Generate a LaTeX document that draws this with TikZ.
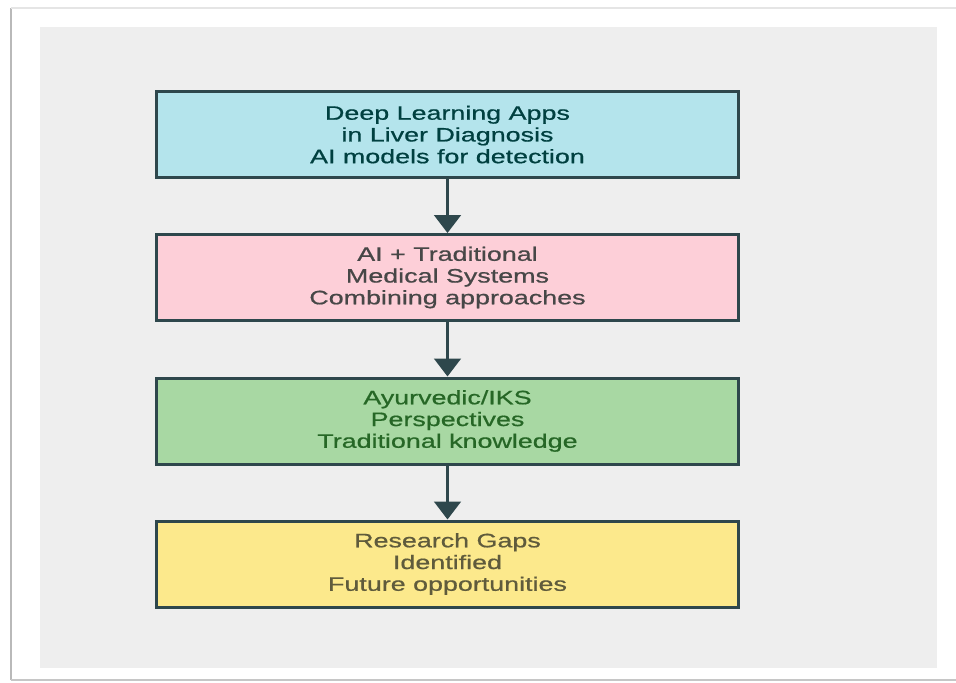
\documentclass[tikz,border=0pt]{standalone}
\usepackage{fontspec}
\setmainfont{Liberation Sans}[FakeStretch=1.38,FakeBold=0.7]
\usetikzlibrary{arrows.meta}
\definecolor{panelgray}{HTML}{EEEEEE}
\definecolor{edgeslate}{HTML}{2E474C}
\definecolor{skyfill}{HTML}{B4E4EC}
\definecolor{rosefill}{HTML}{FDCFD8}
\definecolor{leaffill}{HTML}{A8D8A3}
\definecolor{sandfill}{HTML}{FCE98C}
\tikzset{
  stagebox/.style={draw=edgeslate,line width=2.25pt,minimum width=437pt,
    minimum height=64.5pt,align=center,inner sep=0pt,
    font=\fontsize{14.6}{16.3}\selectfont},
  flowarrow/.style={draw=edgeslate,line width=2.25pt,
    -{Triangle[width=20pt,length=13.5pt]}}
}
\begin{document}
\begin{tikzpicture}[x=0.75pt,y=-0.75pt] % ------ review flow ----------------
    \useasboundingbox (0,0) rectangle (956,682);
    \fill [white] (0,0) rectangle (956,682);
    \draw [gray!55,line width=1.5pt] (11,680)--(11,8);
    \draw [gray!20,line width=1pt] (11,8)--(956,8);
    \draw [gray!45,line width=1.5pt] (11,680)--(956,680);
    \fill [panelgray] (40,27) rectangle (937,668);
    \node [stagebox,fill=skyfill,text=teal!50!black] (deep) at (447.5,134.5)
      {Deep Learning Apps\\in Liver Diagnosis\\AI models for detection};
    \node [stagebox,fill=rosefill,text=black!72] (hybrid) at (447.5,277.5)
      {AI + Traditional\\Medical Systems\\Combining approaches};
    \node [stagebox,fill=leaffill,text=green!30!black!85] (iks) at (447.5,421)
      {Ayurvedic/IKS\\Perspectives\\Traditional knowledge};
    \node [stagebox,fill=sandfill,text=olive!40!black!90] (gaps) at (447.5,564)
      {Research Gaps\\Identified\\Future opportunities};
    \draw [flowarrow] (deep) -- (hybrid);
    \draw [flowarrow] (hybrid) -- (iks);
    \draw [flowarrow] (iks) -- (gaps);
\end{tikzpicture}
\end{document}
